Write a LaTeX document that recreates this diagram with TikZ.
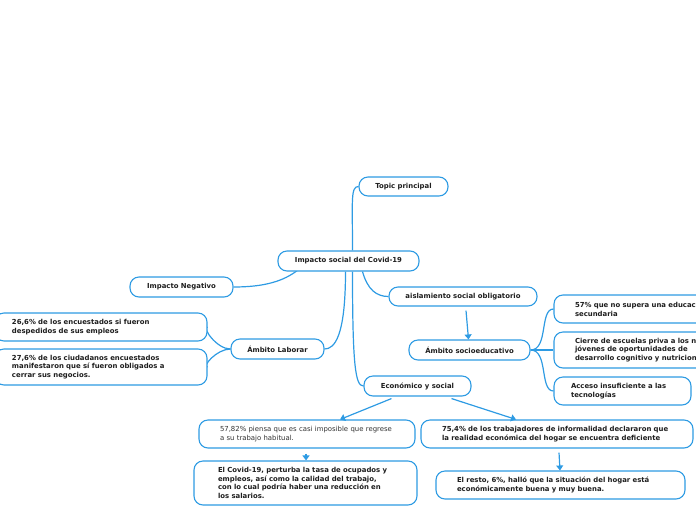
\documentclass[tikz,border=0pt]{standalone}
\usepackage{fontspec}
\setmainfont{DejaVu Sans}
\usetikzlibrary{backgrounds,arrows.meta,calc}
\definecolor{mmblue}{HTML}{2E9BE3}
\definecolor{mmtext}{HTML}{1E1E1E}
\tikzset{
  box/.style={draw=mmblue, line width=1.1pt, fill=white, rounded corners=9pt,
    font=\fontsize{6.9}{8.8}\selectfont\bfseries, text=mmtext, inner ysep=2pt},
  cbox/.style={box, align=center, inner xsep=4pt},
  lbox/.style={box, align=left},
  link/.style={draw=mmblue, line width=1.2pt},
  arrowlink/.style={draw=mmblue, line width=1.2pt, -{Triangle[length=5pt,width=7pt]}}
}
\begin{document}
\begin{tikzpicture}[x=1pt,y=-1pt]
\clip (0,0) rectangle (696,520);
% nodes
\node[cbox, minimum width=89pt, minimum height=19pt] (topic) at (403.5,186.5) {Topic principal};
\node[cbox, minimum width=141pt, minimum height=20pt] (central) at (348.5,261) {Impacto social del Covid-19};
\node[cbox, minimum width=103pt, minimum height=20pt] (neg) at (181.5,287) {Impacto Negativo};
\node[cbox, minimum width=93pt, minimum height=20pt] (lab) at (277.5,349) {Ámbito Laborar};
\node[lbox, inner xsep=17pt, text width=178pt, minimum height=28pt] (n266) at (101,327)
  {26,6\% de los encuestados si fueron\\despedidos de sus empleos};
\node[lbox, inner xsep=17pt, text width=178pt, minimum height=36pt] (n276) at (101,367)
  {27,6\% de los ciudadanos encuestados\\manifestaron que sí fueron obligados a\\cerrar sus negocios.};
\node[cbox, minimum width=148pt, minimum height=19pt] (ais) at (463,296.5) {aislamiento social obligatorio};
\node[cbox, minimum width=121pt, minimum height=20pt] (socio) at (469.5,350) {Ámbito socioeducativo};
\node[lbox, inner xsep=21pt, text width=158pt, minimum height=28pt] (n57) at (654,309)
  {57\% que no supera una educación\\secundaria};
\node[lbox, inner xsep=21pt, text width=158pt, minimum height=36pt] (cierre) at (654,350)
  {Cierre de escuelas priva a los niños y\\jóvenes de oportunidades de\\desarrollo cognitivo y nutricional};
\node[lbox, inner xsep=17pt, text width=103pt, minimum height=28pt] (acceso) at (622.5,391)
  {Acceso insuficiente a las\\tecnologías};
\node[cbox, minimum width=107pt, minimum height=20pt] (eco) at (417.5,386) {Económico y social};
\node[lbox, inner xsep=21pt, text width=174pt, minimum height=28pt, font=\fontsize{6.9}{8.8}\selectfont, text=black!80] (n5782) at (307,434)
  {57,82\% piensa que es casi imposible que regrese\\a su trabajo habitual.};
\node[lbox, inner xsep=24pt, text width=175pt, minimum height=44pt] (covid) at (305.5,483)
  {El Covid-19, perturba la tasa de ocupados y\\empleos, así como la calidad del trabajo,\\con lo cual podría haber una reducción en\\los salarios.};
\node[lbox, inner xsep=21pt, text width=230pt, minimum height=28pt] (n754) at (557,434)
  {75,4\% de los trabajadores de informalidad declararon que\\la realidad económica del hogar se encuentra deficiente};
\node[lbox, inner xsep=21pt, text width=207pt, minimum height=28pt] (resto) at (560.5,485)
  {El resto, 6\%, halló que la situación del hogar está\\económicamente buena y muy buena.};
% connectors
\begin{pgfonlayer}{background}
\draw[link] ([xshift=4pt]central.north) .. controls +(0,-50) and +(-8,0) .. (topic.west);
\draw[link] ([xshift=-50pt,yshift=2pt]central.south) .. controls +(-15,12) and +(30,0) .. (neg.east);
\draw[link] ([xshift=-3pt]central.south) .. controls +(0,65) and +(10,0) .. (lab.east);
\draw[link] ([xshift=14pt]central.south) .. controls +(5,18) and +(-12,0) .. (ais.west);
\draw[link] ([xshift=4pt]central.south) .. controls +(0,95) and +(-8,0) .. (eco.west);
\draw[link] (socio.east) .. controls +(18,0) and +(-14,0) .. (n57.west);
\draw[link] (socio.east) -- (cierre.west);
\draw[link] (socio.east) .. controls +(18,0) and +(-14,0) .. (acceso.west);
\draw[link] (lab.west) .. controls +(-14,0) and +(-6,0) .. (n266.east);
\draw[link] (lab.west) .. controls +(-14,0) and +(-6,0) .. (n276.east);
\end{pgfonlayer}
\draw[arrowlink] ([xshift=3pt,yshift=-4pt]ais.south) -- ([xshift=-1pt]socio.north);
\draw[arrowlink] ([xshift=-26pt,yshift=-2pt]eco.south) -- ([xshift=33pt]n5782.north);
\draw[arrowlink] ([xshift=34pt,yshift=-2pt]eco.south) -- ([xshift=-41pt]n754.north);
\draw[arrowlink] ([xshift=-1pt,yshift=-5pt]n5782.south) -- ([xshift=0.5pt]covid.north);
\draw[arrowlink] ([xshift=2pt,yshift=-4pt]n754.south) -- ([xshift=-0.5pt]resto.north);
\end{tikzpicture}
\end{document}
